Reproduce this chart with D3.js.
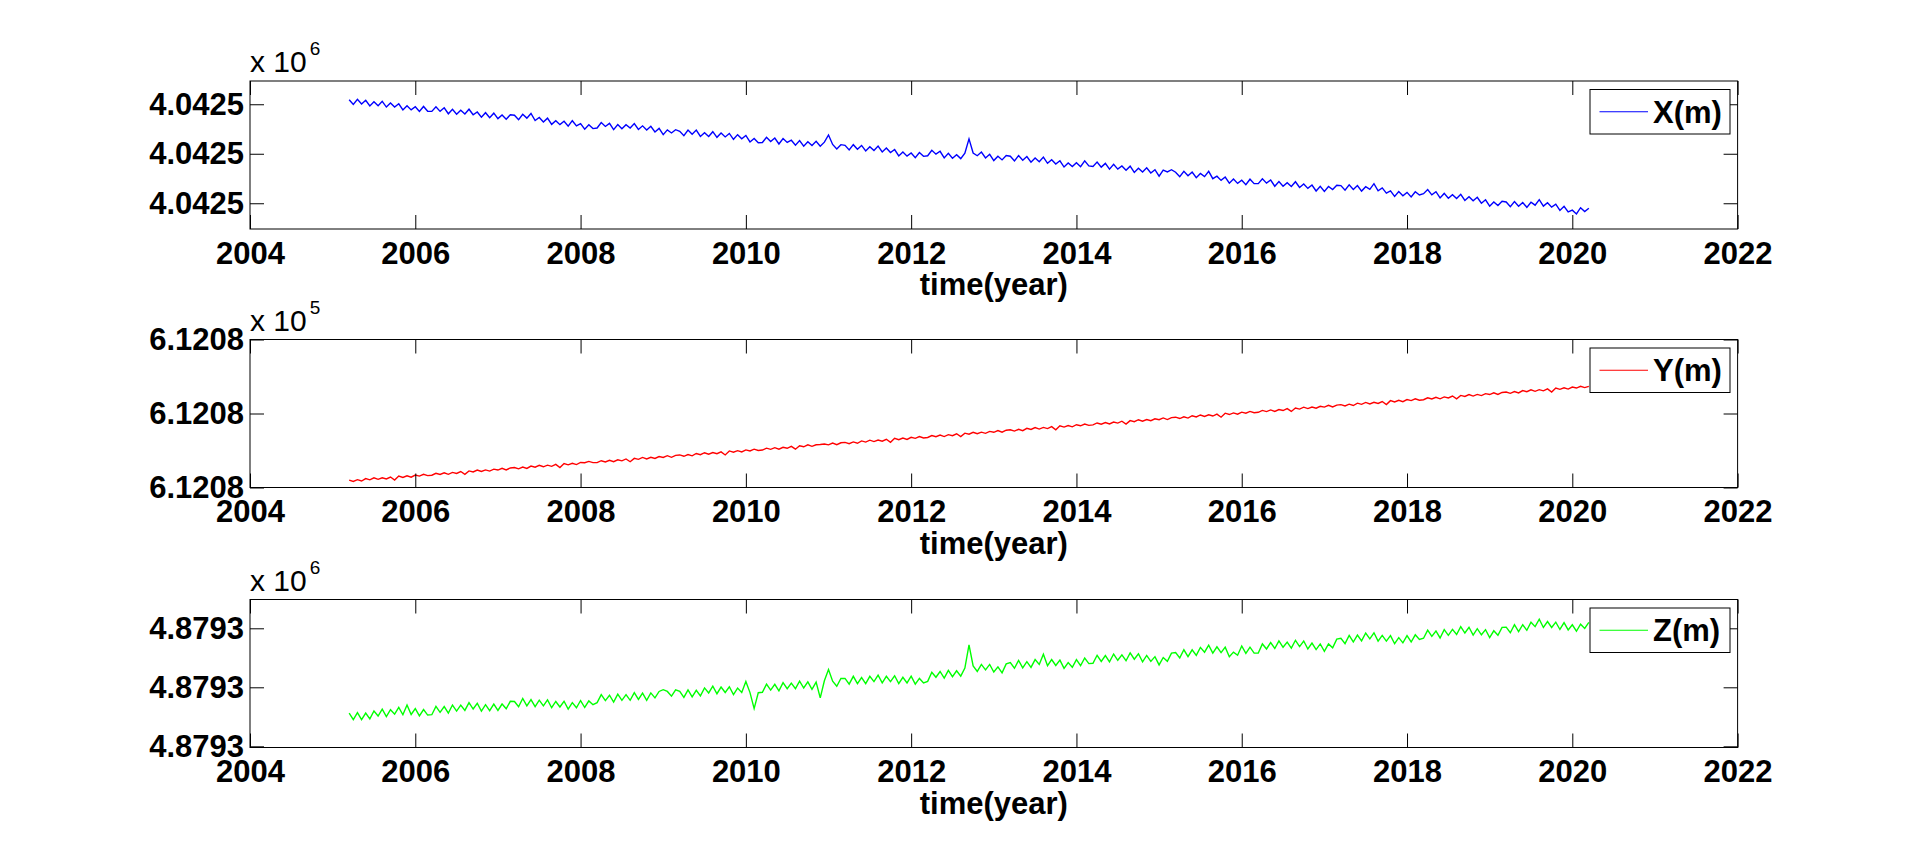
<!DOCTYPE html>
<html><head><meta charset="utf-8">
<script src="https://cdn.jsdelivr.net/npm/d3@7"></script>
<style>
html,body{margin:0;padding:0;background:#fff;}
svg{display:block;}
text{font-family:"Liberation Sans",Arial,Helvetica,sans-serif;fill:#000;}
</style></head><body>
<svg id="chart" width="1920" height="865"></svg>
<script>
// ---- data (time in decimal years; coordinates as offsets in mm from a base value in metres) ----
const years = [
2005.2,2005.25,2005.3,2005.35,2005.4,2005.45,2005.5,2005.55,2005.6,2005.65,2005.7,2005.75,2005.8,2005.85,2005.9,2005.95,2006,2006.05,2006.1,2006.15,
2006.2,2006.25,2006.3,2006.35,2006.4,2006.45,2006.5,2006.55,2006.6,2006.65,2006.7,2006.75,2006.8,2006.85,2006.9,2006.95,2007,2007.05,2007.1,2007.15,
2007.2,2007.25,2007.3,2007.35,2007.4,2007.45,2007.5,2007.55,2007.6,2007.65,2007.7,2007.75,2007.8,2007.85,2007.9,2007.95,2008,2008.05,2008.1,2008.15,
2008.2,2008.25,2008.3,2008.35,2008.4,2008.45,2008.5,2008.55,2008.6,2008.65,2008.7,2008.75,2008.8,2008.85,2008.9,2008.95,2009,2009.05,2009.1,2009.15,
2009.2,2009.25,2009.3,2009.35,2009.4,2009.45,2009.5,2009.55,2009.6,2009.65,2009.7,2009.75,2009.8,2009.85,2009.9,2009.95,2010,2010.05,2010.1,2010.15,
2010.2,2010.25,2010.3,2010.35,2010.4,2010.45,2010.5,2010.55,2010.6,2010.65,2010.7,2010.75,2010.8,2010.85,2010.9,2010.95,2011,2011.05,2011.1,2011.15,
2011.2,2011.25,2011.3,2011.35,2011.4,2011.45,2011.5,2011.55,2011.6,2011.65,2011.7,2011.75,2011.8,2011.85,2011.9,2011.95,2012,2012.05,2012.1,2012.15,
2012.2,2012.25,2012.3,2012.35,2012.4,2012.45,2012.5,2012.55,2012.6,2012.65,2012.7,2012.75,2012.8,2012.85,2012.9,2012.95,2013,2013.05,2013.1,2013.15,
2013.2,2013.25,2013.3,2013.35,2013.4,2013.45,2013.5,2013.55,2013.6,2013.65,2013.7,2013.75,2013.8,2013.85,2013.9,2013.95,2014,2014.05,2014.1,2014.15,
2014.2,2014.25,2014.3,2014.35,2014.4,2014.45,2014.5,2014.55,2014.6,2014.65,2014.7,2014.75,2014.8,2014.85,2014.9,2014.95,2015,2015.05,2015.1,2015.15,
2015.2,2015.25,2015.3,2015.35,2015.4,2015.45,2015.5,2015.55,2015.6,2015.65,2015.7,2015.75,2015.8,2015.85,2015.9,2015.95,2016,2016.05,2016.1,2016.15,
2016.2,2016.25,2016.3,2016.35,2016.4,2016.45,2016.5,2016.55,2016.6,2016.65,2016.7,2016.75,2016.8,2016.85,2016.9,2016.95,2017,2017.05,2017.1,2017.15,
2017.2,2017.25,2017.3,2017.35,2017.4,2017.45,2017.5,2017.55,2017.6,2017.65,2017.7,2017.75,2017.8,2017.85,2017.9,2017.95,2018,2018.05,2018.1,2018.15,
2018.2,2018.25,2018.3,2018.35,2018.4,2018.45,2018.5,2018.55,2018.6,2018.65,2018.7,2018.75,2018.8,2018.85,2018.9,2018.95,2019,2019.05,2019.1,2019.15,
2019.2,2019.25,2019.3,2019.35,2019.4,2019.45,2019.5,2019.55,2019.6,2019.65,2019.7,2019.75,2019.8,2019.85,2019.9,2019.95,2020,2020.05,2020.1,2020.15,
2020.2];

const xBase = 4042500;   // m
const yBase = 612080;    // m
const zBase = 4879300;   // m

const xSeriesMm = [
104.6,99.8,105,100.3,104,98.3,102.5,98.5,103,97.2,101.3,97.2,100.5,94.3,98.6,94.3,97.5,92.7,97.8,93,
92.8,97.5,92.8,96.4,90.4,95,90,93.9,90.2,95,89.4,92.2,87,91.5,86.5,91,85.5,89.2,84.9,89.4,
88.9,84.4,89.9,86,90.7,83.6,86.6,82,86,79.7,83.4,79.4,82.9,77.9,83.4,78.2,80.5,74.9,79.3,75.4,
76,81.5,77.6,80.7,74.4,79.5,75.2,79.3,76,80.5,74.5,78.2,74,77.7,72,75.6,69.3,74.1,71,74.3,
72.7,68.3,74,69.7,73.9,67.5,71.2,67.5,72.3,66.6,71,67,70.5,64.6,69.3,65.1,68.5,61.9,65.4,61.1,
61.4,66.6,62.4,65.9,59.9,65.4,61.4,63.7,58.6,63.4,57.7,62.1,58.4,62.7,57.6,61.7,69,59.4,54.9,59.2,
58.5,53.9,59.2,54.6,58.4,52.8,57.1,53.2,57.7,51.8,55.8,51.3,54.3,47.8,51.8,47.6,50.8,46.1,51.3,47.4,
48,53.5,49.6,52.5,45.8,50.4,45.5,49,45.1,50.6,65,50.8,48,51.7,45.8,49.5,43.1,47.5,43.8,48.2,
47.5,42.8,48.1,43.4,47.2,41.5,45.7,42,46.7,40.4,44,39.7,42.9,36.6,40.7,37.1,41,37,42.9,37.8,
37.2,41.6,36.5,40.3,34.5,39.3,34.5,37.7,33.3,37.5,31.1,35.4,31.6,35.9,30.6,33.9,27.3,33.5,31.6,33.9,
31.3,26.8,32.3,27.7,31.5,25.8,30.1,26.9,32.3,24.8,27.3,23.1,26.5,20.3,24.5,20.1,23.3,18.8,24.3,19.8,
19.8,24.8,20.3,23.5,17.2,21.9,17.1,20.8,17,21.75,16,19.5,15,18.45,12.4,17.2,12,16.9,13.8,18.2,
17.8,13.2,18.6,14,17.9,12.3,16.7,14,19.8,12.65,15.5,10.3,12.6,6.95,11.8,7.65,11,6.3,11.6,8.4,
9.7,13.85,8.5,11.7,5.4,9.95,5,8.6,4.7,9,2.8,6.65,2.5,6,0,3.5,-3,1.35,-2.3,2,
1.3,-3.45,1.8,-2.95,0.8,-4.1,1,-1.95,3.6,-2.9,0.6,-3.9,-0.9,-7.2,-3,-8.75,-7,-10.75,-4.5,-8.4,
-5];

const ySeriesMm = [
5.0,4.1,5.3,4.4,6.0,5.2,6.5,5.5,6.6,5.8,7.1,5.0,7.7,6.8,7.9,7.0,8.4,7.7,8.9,8.0,
8.3,9.6,8.8,9.9,8.9,10.2,9.5,10.8,8.9,11.2,10.5,11.8,10.8,11.9,11.1,12.4,11.8,13.0,11.9,13.2,
13.5,12.6,13.8,12.9,14.5,13.7,15.0,14.0,15.1,14.3,15.6,13.5,16.2,15.3,16.4,15.5,16.9,16.7,17.6,16.8,
16.8,18.1,17.3,18.4,17.4,18.7,18.0,19.3,17.4,19.7,19.0,20.3,19.3,20.4,19.6,20.9,20.3,21.5,20.4,21.7,
22.0,21.1,22.3,21.4,23.0,22.2,23.5,22.5,23.6,22.8,24.1,22.0,24.7,23.8,24.9,24.0,25.4,24.7,25.9,25.0,
25.3,26.6,25.8,26.9,25.9,27.2,26.5,27.8,25.9,28.2,27.5,28.8,27.8,28.9,29.1,29.4,28.8,30.0,28.9,30.2,
30.5,29.6,30.8,29.9,31.5,30.7,32.0,31.0,32.1,31.3,32.6,30.5,33.2,32.3,33.4,32.5,33.9,33.2,34.4,33.5,
33.8,35.1,34.3,35.4,34.4,35.7,35.0,36.3,34.4,36.7,36.0,37.3,36.3,37.4,36.6,37.9,37.3,38.5,37.4,38.7,
39.0,38.1,39.3,38.4,40.0,39.2,40.5,39.5,40.6,39.8,41.1,39.0,41.7,40.8,41.9,41.0,42.4,41.7,42.9,42.0,
42.3,43.6,42.8,43.9,42.9,44.2,43.5,44.8,42.9,45.2,44.5,45.8,44.8,45.9,45.1,46.4,45.8,47.0,45.9,47.2,
47.5,46.6,47.8,46.9,48.5,47.7,49.0,48.0,49.1,48.3,49.6,47.5,50.2,49.3,50.4,49.5,50.9,50.2,51.4,50.5,
50.8,52.1,51.3,52.4,51.4,52.7,52.0,53.3,51.4,53.7,53.0,54.3,53.3,54.4,53.6,54.9,54.3,55.5,54.4,55.7,
56.0,55.1,56.3,55.4,57.0,56.2,57.5,56.5,57.6,56.8,58.1,56.0,58.7,57.8,58.9,58.0,59.4,58.7,59.9,59.0,
59.3,60.6,59.8,60.9,59.9,61.2,60.5,61.8,59.9,62.2,61.5,62.8,61.8,62.9,62.1,63.4,62.8,64.0,62.9,64.2,
64.5,63.6,64.8,63.9,65.5,64.7,66.0,65.0,66.1,65.3,66.6,64.5,67.2,66.3,67.4,66.5,67.9,67.2,68.4,67.5,
68.3];

const zSeriesMm = [
28.1,22.6,28.6,22.65,28.2,23.3,29.9,25.7,31.5,25.25,31,27.25,33,26.75,35,27,32,25.85,31.2,26.5,
26.8,33.8,28.8,33.7,28.1,35,29.9,34.9,30.4,37,31.6,36.5,29.9,35.3,30.2,35.8,30.4,35.85,31.8,38.15,
38,33.5,40.5,34.3,39.6,33.6,39.1,34.25,39.4,32.7,38,33.35,38.2,31.6,37,32.65,38.8,32.9,38.5,35.25,
37,43.85,38.7,43.3,37.4,44.2,39,43.75,39,45.4,39.8,45.15,39,45.25,41,46.5,48,46.5,42.5,47.75,
46.5,41.4,47.8,41.9,47.5,42.75,49.5,45.2,50.9,44.55,50.2,45.6,50.5,43.9,49.3,45.65,55,45.5,32,45.4,
45.8,52.7,47.6,52.55,47,53.9,48.8,53.6,48.9,55.15,49.4,54.55,48.2,54.35,41,55.5,65,55.2,50.9,57.45,
57.5,52.65,59.3,53.05,58.3,53.05,59.3,54.8,60.3,53.8,59.3,54.8,59.8,53.15,58.5,53.75,59.5,52.75,57.5,53.75,
55,62.75,58.5,63.4,57.8,64.4,59,64,59.5,66.35,86,68.1,63.5,69.4,64.8,69.4,63,67.35,62.2,69.85,
71,66.15,72.8,66.5,71.7,66.85,73.5,69.35,78,68.35,73.5,68.5,73,66,71,67,73.5,68.4,74.8,70.1,
70.4,77.15,71.9,76.95,71.5,78.2,72.9,77.45,72.5,79.15,73.8,78.4,71.5,77,72,76,69,75.25,72,79,
79.5,74.9,81.8,76.05,81.8,77.05,83.8,79.75,85.7,79,84.3,79.4,84,75.9,79.8,77.15,85,78.75,84,79,
79,86.75,82.5,87.95,82.9,89.4,83.9,88.3,83.2,89.85,84.5,89.25,82.5,87.5,82,86.75,80.5,86.75,83.5,90.8,
91.6,87.05,94,88.4,94.3,89.4,96,91.1,96.2,89.1,94,89.15,93.8,86.95,92.1,87.7,93.8,88.4,94.5,90.55,
91.6,98.4,93.2,97.75,91.8,98.9,94,99.1,94.7,101.35,96,100.9,94.3,99.65,94.5,98.85,92.2,97.9,94.1,100.8,
101,96.25,103,97.25,103,98.3,105.1,101.4,107.7,100.7,105.7,100.7,105.2,99,104.8,98.65,103,97.5,103.5,99.85,
105];

const yearTicks = [2004,2006,2008,2010,2012,2014,2016,2018,2020,2022];
const yearDomain = [2004, 2022];
const seriesNames = ["X(m)", "Y(m)", "Z(m)"];
const seriesColors = ["#0000ff", "#ff0000", "#00ff00"];
const seriesBases = [xBase, yBase, zBase];
const seriesData = [xSeriesMm, ySeriesMm, zSeriesMm];
const exponents = [6, 5, 6];
const valueTicksMm = [[0, 50, 100], [0, 50, 100], [0, 50, 100]];
const valueLimitsMm = [[-26, 123.5], [0, 100], [-1, 124.4]];
const xLabel = "time(year)";

// ---- layout ----
const L = 250, R = 1737.6;
const tops = [81, 339.5, 599.5];
const H = 148;
const TICK = 14;
const FS = 31;

const svg = d3.select("#chart");
const x = d3.scaleLinear().domain(yearDomain).range([L, R]);

for (let p = 0; p < 3; p++) {
  const top = tops[p], bot = top + H;
  const base = seriesBases[p];
  const exp = exponents[p];
  const y = d3.scaleLinear()
    .domain(valueLimitsMm[p].map(v => base + v / 1000))
    .range([bot, top]);
  const tickVals = valueTicksMm[p].map(v => base + v / 1000);
  const fmt = v => (v / Math.pow(10, exp)).toFixed(4);
  const g = svg.append("g");

  // series
  const line = d3.line()
    .x((d, i) => x(years[i]))
    .y(d => y(base + d / 1000));
  g.append("path")
    .datum(seriesData[p])
    .attr("fill", "none")
    .attr("stroke", seriesColors[p])
    .attr("stroke-width", 1.4)
    .attr("stroke-linejoin", "miter")
    .attr("d", line);

  // axes
  const ax = (sel) => { sel.select(".domain").remove(); sel.selectAll("line").attr("stroke", "#000").attr("stroke-width", 1); };
  const gl = g.append("g").attr("transform", `translate(${L},0)`)
    .call(d3.axisLeft(y).tickValues(tickVals).tickFormat(fmt).tickSize(-TICK).tickSizeOuter(0).tickPadding(6));
  ax(gl);
  gl.selectAll("text").attr("font-size", FS).attr("font-weight", "bold").attr("font-family", null);
  const gr = g.append("g").attr("transform", `translate(${R},0)`)
    .call(d3.axisRight(y).tickValues(tickVals).tickFormat("").tickSize(-TICK).tickSizeOuter(0));
  ax(gr);
  const gb = g.append("g").attr("transform", `translate(0,${bot})`)
    .call(d3.axisBottom(x).tickValues(yearTicks).tickFormat(d3.format("d")).tickSize(-TICK).tickSizeOuter(0).tickPadding(12.5));
  ax(gb);
  gb.selectAll("text").attr("font-size", FS).attr("font-weight", "bold").attr("font-family", null);
  const gt = g.append("g").attr("transform", `translate(0,${top})`)
    .call(d3.axisTop(x).tickValues(yearTicks).tickFormat("").tickSize(-TICK).tickSizeOuter(0));
  ax(gt);
  svg.selectAll(".tick text").attr("fill", "#000");

  // frame
  g.append("rect").attr("x", L).attr("y", top).attr("width", R - L).attr("height", H)
    .attr("fill", "none").attr("stroke", "#000").attr("stroke-width", 1);

  // x label
  g.append("text").attr("x", (L + R) / 2).attr("y", bot + 66)
    .attr("text-anchor", "middle").attr("font-size", FS).attr("font-weight", "bold").text(xLabel);

  // multiplier
  const mt = g.append("text").attr("x", L).attr("y", top - 9).attr("font-size", 30);
  mt.append("tspan").text("x 10");
  mt.append("tspan").attr("font-size", 19).attr("dy", -17).attr("dx", 3).text(exp);

  // legend
  const lx = 1590, ly = top + 8.5, lw = 140, lh = 44.5;
  g.append("rect").attr("x", lx).attr("y", ly).attr("width", lw).attr("height", lh)
    .attr("fill", "#fff").attr("stroke", "#000").attr("stroke-width", 1);
  g.append("line").attr("x1", lx + 9.5).attr("x2", lx + 58).attr("y1", ly + lh / 2).attr("y2", ly + lh / 2)
    .attr("stroke", seriesColors[p]).attr("stroke-width", 1);
  g.append("text").attr("x", lx + 63).attr("y", ly + lh / 2 + 10.8)
    .attr("font-size", FS).attr("font-weight", "bold").text(seriesNames[p]);
}
</script>
</body></html>
